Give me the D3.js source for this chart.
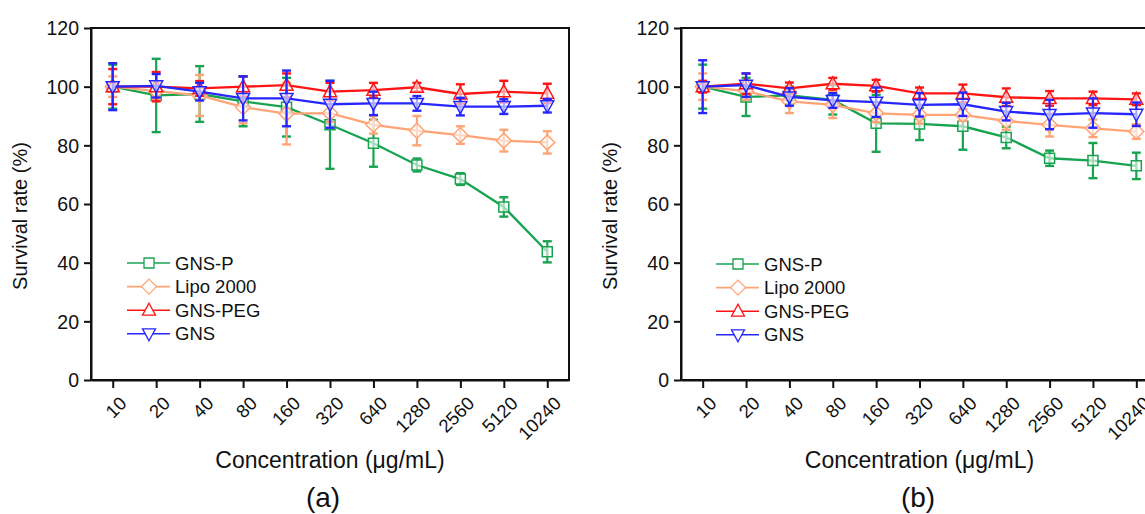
<!DOCTYPE html>
<html>
<head>
<meta charset="utf-8">
<script src="https://cdn.jsdelivr.net/npm/d3@7"></script>
<style>
html,body{margin:0;padding:0;background:#fff;}
svg{display:block;}
text{font-family:Arial,"Liberation Sans",sans-serif;fill:#111;}
</style>
</head>
<body>
<svg id="chart" width="1145" height="514"></svg>
<script>
// ---------- data ----------
const categories = ["10","20","40","80","160","320","640","1280","2560","5120","10240"];
const seriesNames = ["GNS-P","Lipo 2000","GNS-PEG","GNS"];
const yTicks = [0,20,40,60,80,100,120];

// panel (a)
const aGNSP      = [100, 97, 97.5, 95, 93, 87, 80.7, 73.3, 68.5, 59, 43.7];
const aGNSPErr   = [7.5, 12.5, 9.5, 8.5, 10, 15, 8, 2.2, 2, 3.3, 3.6];
const aLipo      = [100, 98.5, 97, 93, 90.8, 91, 87, 85, 83.5, 81.6, 81];
const aLipoErr   = [3.5, 3, 7, 5.5, 10.5, 3, 3, 5, 3, 3.7, 3.8];
const aPEG       = [100, 100, 99.4, 100, 100.5, 98.3, 98.8, 99.8, 97.5, 98.3, 97.7];
const aPEGErr    = [6, 5, 2.5, 3.5, 4, 3, 2.5, 1.5, 3.3, 3.7, 3.3];
const aGNS       = [100, 100.3, 98.3, 96, 96, 94, 94.3, 94.3, 93.2, 93.2, 93.5];
const aGNSErr    = [8, 4, 3, 7.5, 9.5, 8, 4, 2.5, 3, 2.5, 2.3];

// panel (b)
const bGNSP      = [100, 96.5, 97, 95.5, 87.5, 87.3, 86.5, 82.7, 75.6, 74.8, 73];
const bGNSPErr   = [7.5, 6.5, 3, 5, 9.7, 5.5, 8, 3.7, 2.6, 6, 4.5];
const bLipo      = [100, 98.5, 95, 93.8, 90.9, 90.4, 90.4, 88.3, 87, 85.8, 84.7];
const bLipoErr   = [4.5, 3, 4, 4.5, 3, 3, 2, 3, 4, 3, 2.5];
const bPEG       = [100, 101, 99.4, 101, 100.3, 97.7, 97.7, 96.4, 96, 96, 95.7];
const bPEGErr    = [2, 3.5, 2, 2, 2, 2, 3, 3, 2.5, 2.3, 2];
const bGNS       = [100, 100.5, 96.5, 95.3, 94.7, 93.8, 94, 91.5, 90.5, 91, 90.6];
const bGNSErr    = [9, 4, 3, 2.5, 5, 4, 4, 3, 5, 5, 4];

// ---------- styles ----------
const colors  = {"GNS-P":"#18a350","Lipo 2000":"#ffa476","GNS-PEG":"#ff1414","GNS":"#2626ff"};
const shapes  = {"GNS-P":"square","Lipo 2000":"diamond","GNS-PEG":"triUp","GNS":"triDown"};

function shapePath(kind){
  if(kind==="square") return "M-5,-5H5V5H-5Z";
  if(kind==="diamond") return "M0,-7.5L7.5,0L0,7.5L-7.5,0Z";
  if(kind==="triUp") return "M0,-7L6.5,5L-6.5,5Z";
  return "M0,7L6.5,-5L-6.5,-5Z";
}

const svg = d3.select("#chart");
svg.append("rect").attr("width",1145).attr("height",514).attr("fill","#fff");

function drawPanel(cfg){
  const g = svg.append("g");
  const x = d3.scalePoint().domain(categories).range([cfg.x0,cfg.x1]).padding(0.5);
  const y = d3.scaleLinear().domain([0,120]).range([380,28]);

  // frame
  g.append("rect").attr("x",cfg.x0).attr("y",y(120)).attr("width",cfg.x1-cfg.x0).attr("height",y(0)-y(120))
    .attr("fill","none").attr("stroke","#111").attr("stroke-width",2);

  // x axis
  const xa = g.append("g").attr("transform","translate(0,380)")
    .call(d3.axisBottom(x).tickSize(8).tickSizeOuter(0));
  xa.select(".domain").attr("stroke","#111").attr("stroke-width",2);
  xa.selectAll(".tick line").attr("stroke","#111").attr("stroke-width",2);
  xa.selectAll(".tick text")
    .attr("font-size",18.5).attr("font-family","Arial, 'Liberation Sans', sans-serif").attr("fill","#111")
    .attr("text-anchor","end").attr("x",0).attr("y",0).attr("dy","0.35em")
    .attr("transform","translate(10,20) rotate(-45)");

  // y axis
  const ya = g.append("g").attr("transform",`translate(${cfg.x0},0)`)
    .call(d3.axisLeft(y).tickValues(yTicks).tickSize(7).tickSizeOuter(0));
  ya.select(".domain").attr("stroke","#111").attr("stroke-width",2);
  ya.selectAll(".tick line").attr("stroke","#111").attr("stroke-width",2);
  ya.selectAll(".tick text").attr("font-size",19.5).attr("font-family","Arial, 'Liberation Sans', sans-serif")
    .attr("fill","#111").attr("x",-12).attr("dy","0.35em");

  // series
  cfg.series.forEach(s=>{
    const col = colors[s.name];
    const pts = categories.map((c,i)=>({c, v:s.values[i], e:s.errors[i]}));
    const sg = g.append("g");
    sg.append("path").datum(pts)
      .attr("d", d3.line().x(d=>x(d.c)).y(d=>y(d.v)))
      .attr("fill","none").attr("stroke",col).attr("stroke-width",2.3);
    const eb = sg.selectAll(".eb").data(pts).join("g");
    eb.append("line").attr("x1",d=>x(d.c)).attr("x2",d=>x(d.c))
      .attr("y1",d=>y(d.v+d.e)).attr("y2",d=>y(d.v-d.e)).attr("stroke",col).attr("stroke-width",2.2);
    eb.append("line").attr("x1",d=>x(d.c)-4.5).attr("x2",d=>x(d.c)+4.5)
      .attr("y1",d=>y(d.v+d.e)).attr("y2",d=>y(d.v+d.e)).attr("stroke",col).attr("stroke-width",2.4);
    eb.append("line").attr("x1",d=>x(d.c)-4.5).attr("x2",d=>x(d.c)+4.5)
      .attr("y1",d=>y(d.v-d.e)).attr("y2",d=>y(d.v-d.e)).attr("stroke",col).attr("stroke-width",2.4);
    sg.selectAll(".mk").data(pts).join("path")
      .attr("d",shapePath(shapes[s.name]))
      .attr("transform",d=>`translate(${x(d.c)},${y(d.v)})`)
      .attr("fill","#fff").attr("fill-opacity",0.6).attr("stroke",col).attr("stroke-width",1.5);
  });

  // legend
  const lg = g.append("g");
  seriesNames.forEach((n,i)=>{
    const ly = cfg.legY + i*23.6;
    lg.append("line").attr("x1",cfg.legX).attr("x2",cfg.legX+43).attr("y1",ly).attr("y2",ly)
      .attr("stroke",colors[n]).attr("stroke-width",1.6);
    lg.append("path").attr("d",shapePath(shapes[n])).attr("transform",`translate(${cfg.legX+22},${ly})`)
      .attr("fill","#fff").attr("stroke",colors[n]).attr("stroke-width",1.3);
    lg.append("text").attr("x",cfg.legX+48).attr("y",ly).attr("dy","0.36em")
      .attr("font-size",18.5).text(n);
  });

  // axis titles
  g.append("text").attr("transform",`translate(${cfg.yTitleX},${cfg.yTitleY}) rotate(-90)`)
    .attr("text-anchor","middle").attr("font-size",20).text("Survival rate (%)");
  g.append("text").attr("x",(cfg.x0+cfg.x1)/2).attr("y",468).attr("text-anchor","middle")
    .attr("font-size",23).text("Concentration (\u03bcg/mL)");
  g.append("text").attr("x",cfg.labelX).attr("y",507).attr("text-anchor","middle")
    .attr("font-size",28).text(cfg.label);
}

drawPanel({
  x0:91, x1:569, legX:127, legY:263, yTitleX:27, yTitleY:216, labelX:323, label:"(a)",
  series:[
    {name:"GNS-P", values:aGNSP, errors:aGNSPErr},
    {name:"Lipo 2000", values:aLipo, errors:aLipoErr},
    {name:"GNS-PEG", values:aPEG, errors:aPEGErr},
    {name:"GNS", values:aGNS, errors:aGNSErr}
  ]
});
drawPanel({
  x0:681, x1:1158, legX:716, legY:264, yTitleX:617, yTitleY:216, labelX:918, label:"(b)",
  series:[
    {name:"GNS-P", values:bGNSP, errors:bGNSPErr},
    {name:"Lipo 2000", values:bLipo, errors:bLipoErr},
    {name:"GNS-PEG", values:bPEG, errors:bPEGErr},
    {name:"GNS", values:bGNS, errors:bGNSErr}
  ]
});
</script>
</body>
</html>
